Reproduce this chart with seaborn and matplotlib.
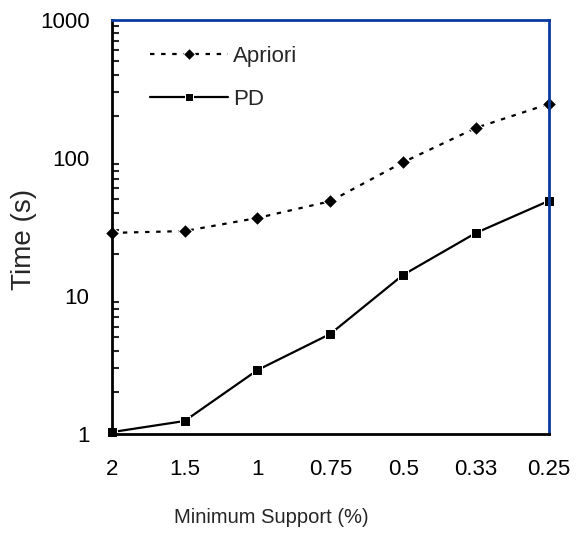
import pandas as pd
import seaborn as sns
import matplotlib.pyplot as plt
from matplotlib.ticker import LogLocator, NullFormatter, FixedLocator, FixedFormatter

support = ['2', '1.5', '1', '0.75', '0.5', '0.33', '0.25']
apriori = [28.6, 29.5, 36.7, 48.5, 93, 165, 246]
pd_time = [1.03, 1.24, 2.9, 5.3, 14.2, 28.6, 48.8]

df = pd.DataFrame({
    'support': support * 2,
    'time': apriori + pd_time,
    'algo': ['Apriori'] * len(support) + ['PD'] * len(support),
})

sns.set_style('white')
plt.rcParams['font.family'] = ['Liberation Sans', 'DejaVu Sans']

fig = plt.figure(figsize=(5.82, 5.37), dpi=100)
ax = fig.add_axes([0.192, 0.192, 0.751, 0.771])

sns.lineplot(data=df, x='support', y='time', hue='algo', style='algo',
             palette={'Apriori': 'black', 'PD': 'black'},
             dashes={'Apriori': (2, 3), 'PD': ''},
             markers={'Apriori': 'D', 'PD': 's'},
             markersize=7, linewidth=1.6, ax=ax, sort=False, clip_on=False)

ax.set_yscale('log')
ax.set_ylim(1, 1000)
ax.set_xlim(0, len(support) - 1)
ax.yaxis.set_major_locator(FixedLocator([1, 10, 100, 1000]))
ax.yaxis.set_major_formatter(FixedFormatter(['1', '10', '100', '1000']))
ax.yaxis.set_minor_locator(LogLocator(base=10, subs=range(2, 10)))
ax.yaxis.set_minor_formatter(NullFormatter())

ax.tick_params(axis='both', which='major', direction='in', length=8, width=1.8,
               labelsize=16, colors='black')
ax.tick_params(axis='x', pad=18)
ax.tick_params(axis='y', pad=16)
ax.tick_params(axis='y', which='minor', direction='in', length=5, width=1.5, left=True)

for side in ['left', 'bottom']:
    ax.spines[side].set_color('black')
    ax.spines[side].set_linewidth(2)
for side in ['top', 'right']:
    ax.spines[side].set_color('#0a3aa0')
    ax.spines[side].set_linewidth(2)

ax.set_xlabel('Minimum Support (%)', fontsize=14.5)
ax.set_ylabel('Time (s)', fontsize=20)
ax.xaxis.set_label_coords(0.366, -0.18)
ax.yaxis.set_label_coords(-0.172, 0.469)

leg = ax.legend(loc='upper left', bbox_to_anchor=(0.087, 0.937), frameon=False,
                fontsize=16, handlelength=3.5, handletextpad=0.25, labelspacing=1.0,
                borderaxespad=0, borderpad=0, markerscale=0.85)

fig.savefig('out.png', dpi=100)
